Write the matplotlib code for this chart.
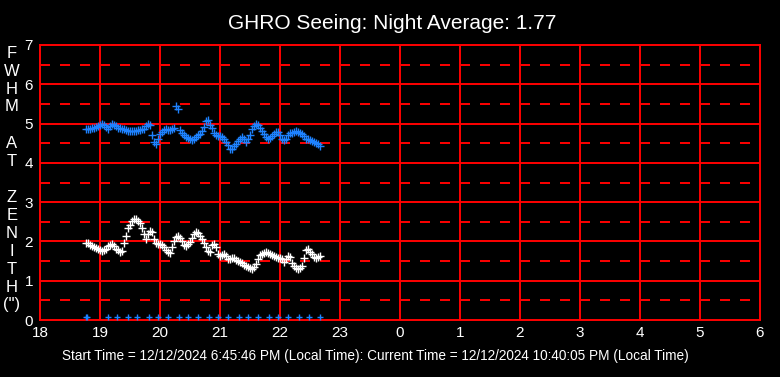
import numpy as np
import matplotlib
matplotlib.use("Agg")
import matplotlib.pyplot as plt
from matplotlib import font_manager

# FWHM readings, one every 2 minutes from 18:46 to 22:40 local time
blue_fwhm = [
    4.85, 4.86, 4.87, 4.88, 4.89, 4.92, 4.95, 4.97, 5.00, 4.96,
    4.92, 4.86, 4.95, 4.99, 4.97, 4.93, 4.90, 4.89, 4.87, 4.85,
    4.84, 4.82, 4.81, 4.82, 4.81, 4.82, 4.83, 4.84, 4.85, 4.87,
    4.93, 4.99, 4.96, 4.70, 4.52, 4.48, 4.62, 4.74, 4.79, 4.84,
    4.85, 4.84, 4.84, 4.86, 4.88, 5.46, 5.36, 4.84, 4.76, 4.70,
    4.66, 4.63, 4.60, 4.58, 4.60, 4.65, 4.70, 4.73, 4.80, 4.92,
    5.06, 5.10, 4.96, 4.88, 4.76, 4.70, 4.69, 4.68, 4.66, 4.62,
    4.54, 4.46, 4.36, 4.35, 4.42, 4.48, 4.55, 4.62, 4.67, 4.60,
    4.52, 4.60, 4.71, 4.85, 4.95, 5.00, 4.96, 4.88, 4.82, 4.74,
    4.66, 4.62, 4.63, 4.68, 4.74, 4.79, 4.78, 4.72, 4.62, 4.57,
    4.62, 4.70, 4.75, 4.77, 4.79, 4.80, 4.79, 4.77, 4.74, 4.68,
    4.62, 4.61, 4.58, 4.56, 4.53, 4.50, 4.47, 4.44,
]
white_fwhm = [
    1.97, 1.95, 1.92, 1.89, 1.87, 1.84, 1.81, 1.78, 1.76, 1.78,
    1.82, 1.88, 1.92, 1.93, 1.88, 1.82, 1.77, 1.72, 1.75, 1.95,
    2.15, 2.33, 2.43, 2.52, 2.58, 2.57, 2.52, 2.46, 2.33, 2.18,
    2.06, 2.20, 2.27, 2.25, 2.05, 1.97, 1.94, 1.93, 1.90, 1.85,
    1.79, 1.74, 1.71, 1.86, 2.00, 2.12, 2.13, 2.10, 2.02, 1.92,
    1.88, 1.93, 1.99, 2.10, 2.18, 2.24, 2.22, 2.15, 2.05, 1.95,
    1.85, 1.76, 1.72, 1.92, 1.93, 1.85, 1.68, 1.62, 1.66, 1.68,
    1.62, 1.56, 1.55, 1.59, 1.57, 1.53, 1.50, 1.48, 1.45, 1.41,
    1.38, 1.35, 1.32, 1.31, 1.36, 1.42, 1.55, 1.65, 1.68, 1.70,
    1.72, 1.70, 1.69, 1.65, 1.62, 1.60, 1.58, 1.58, 1.56, 1.48,
    1.55, 1.62, 1.60, 1.46, 1.38, 1.33, 1.31, 1.33, 1.38, 1.58,
    1.77, 1.80, 1.73, 1.68, 1.60, 1.57, 1.60, 1.63,
]
start_minute = 46  # 18:46
step_minutes = 2

# ten-minute status markers along the bottom
status_hours = [18.76, 18.79, 19.13, 19.29, 19.46, 19.62, 19.81, 19.97, 20.14,
                20.31, 20.47, 20.64, 20.81, 20.97, 21.14, 21.31, 21.47, 21.64,
                21.81, 21.97, 22.14, 22.32, 22.49, 22.66]
status_value = 0.07

hour_ticks = list(range(18, 31))
hour_labels = [str(h % 24) for h in hour_ticks]
title = "GHRO Seeing: Night Average: 1.77"
footer = ("Start Time = 12/12/2024 6:45:46 PM (Local Time): "
          "Current Time = 12/12/2024 10:40:05 PM (Local Time)")
ylabel_chars = list("FWHM") + [""] + list("AT") + [""] + list("ZENITH") + ['(")']

W, H = 780, 377
names = {f.name for f in font_manager.fontManager.ttflist}
font = "Liberation Sans" if "Liberation Sans" in names else "DejaVu Sans"
plt.rcParams["font.family"] = [font, "DejaVu Sans"]
plt.rcParams["lines.scale_dashes"] = False

RED = "#ff0000"
BLUE = "#1e82ff"

fig = plt.figure(figsize=(W / 100, H / 100), dpi=100, facecolor="black")
ax = fig.add_axes([40 / W, 57 / H, 720 / W, 275 / H], facecolor="black")

hours = 18 + (start_minute + step_minutes * np.arange(len(blue_fwhm))) / 60.0

# grid
for y in range(1, 7):
    ax.axhline(y, color=RED, lw=1.4, zorder=1)
for y in np.arange(0.5, 7, 1.0):
    ax.axhline(y, color=RED, lw=1.4, dashes=(7.2, 7.2), zorder=1)
for h in hour_ticks[1:-1]:
    ax.axvline(h, color=RED, lw=1.4, zorder=1)

ax.plot(hours, blue_fwhm, ls="none", marker="+", ms=5.5, mew=1.0,
        color=BLUE, zorder=3)
ax.plot(hours, white_fwhm, ls="none", marker="+", ms=5.5, mew=1.0,
        color="white", zorder=3)
ax.plot(status_hours, [status_value] * len(status_hours), ls="none",
        marker="+", ms=5, mew=1.0, color=BLUE, zorder=3, clip_on=False)

ax.set_xlim(18, 30)
ax.set_ylim(0, 7)
ax.set_xticks(hour_ticks)
ax.set_xticklabels(hour_labels)
ax.set_yticks(range(0, 8))
ax.tick_params(colors="white", labelsize=11, length=0)
ax.tick_params(axis="x", pad=4)
ax.tick_params(axis="y", pad=5)
for s in ax.spines.values():
    s.set_color(RED)
    s.set_linewidth(1.4)

def px(x, y):
    return x / W, 1 - y / H

fig.text(*px(392, 29), title, color="white", fontsize=15,
         ha="center", va="baseline")
fig.text(*px(62, 356), footer, color="white", fontsize=9.8,
         ha="left", va="center")
for i, ch in enumerate(ylabel_chars):
    if ch:
        fig.text(*px(12, 53 + 18 * i), ch, color="white", fontsize=12,
                 ha="center", va="center")

fig.savefig("out.png", dpi=100, facecolor="black")
